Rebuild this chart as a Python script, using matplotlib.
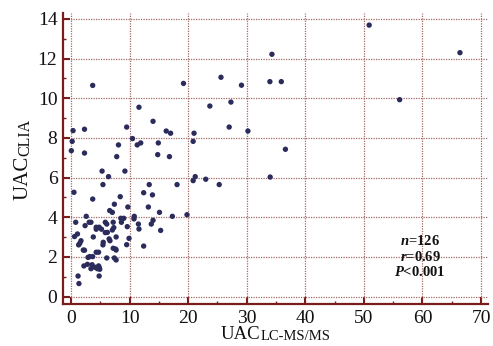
import matplotlib
matplotlib.use("Agg")
import matplotlib.pyplot as plt
from matplotlib.ticker import MultipleLocator

plt.rcParams['font.family'] = ['Liberation Serif', 'DejaVu Serif']
plt.rcParams['mathtext.fontset'] = 'custom'
plt.rcParams['mathtext.rm'] = 'Liberation Serif'
plt.rcParams['mathtext.it'] = 'Liberation Serif:italic:bold'

uac_lcms = [
    3.7, 19.2, 25.6, 29.1, 0.35, 2.3, 0.2, 0.05, 2.3, 9.5, 10.5, 11.6, 11.3, 11.9, 8.1, 7.8,
    14.0, 14.9, 14.8, 16.25, 17.0, 16.8, 21.0, 20.85, 23.7, 27.3, 27.0, 30.2, 5.3, 6.4, 9.2,
    34.3, 50.9, 66.4, 33.95, 35.9, 56.1, 36.6, 34.0,
    5.45, 0.5, 12.4, 13.35, 13.9, 18.1, 21.2, 20.85, 23.0, 25.3, 8.4, 3.7, 7.4, 9.7, 13.2,
    6.6, 7.05, 15.1, 17.3, 19.8, 2.6, 10.8, 10.75, 0.8, 3.1, 3.4, 7.2, 5.85, 6.1, 8.5, 9.0,
    8.6, 11.5, 13.7, 14.0, 2.4, 4.3, 4.8, 4.3, 5.2, 7.05, 7.3, 9.6, 11.6, 15.3, 5.85, 6.2,
    1.1, 0.6, 3.8, 7.7, 9.9, 6.5, 6.65, 1.7, 1.5, 1.3, 5.5, 5.45, 9.5, 12.4, 7.2, 7.6, 7.7,
    2.1, 2.3, 4.3, 4.7, 2.9, 3.2, 3.7, 6.1, 7.4, 7.7, 2.8, 2.2, 3.6, 4.1, 3.4, 4.5, 4.8,
    4.9, 4.7, 1.2, 4.8, 1.35,
]
uac_clia = [
    10.65, 10.75, 11.06, 10.66, 8.37, 8.44, 7.83, 7.36, 7.24, 8.55, 7.97, 9.55, 7.65, 7.75, 7.65, 7.06,
    8.84, 7.75, 7.16, 8.35, 8.24, 7.06, 8.24, 7.83, 9.61, 9.81, 8.55, 8.35, 6.33, 6.05, 6.33,
    12.22, 13.69, 12.3, 10.84, 10.84, 9.93, 7.43, 6.03,
    5.65, 5.26, 5.24, 5.65, 5.13, 5.65, 6.05, 5.85, 5.92, 5.65, 5.04, 4.92, 4.66, 4.52, 4.52,
    4.34, 4.25, 4.25, 4.05, 4.13, 4.05, 4.05, 3.92, 3.75, 3.75, 3.75, 3.75, 3.75, 3.66, 3.95, 3.95,
    3.75, 3.66, 3.66, 3.85, 3.58, 3.50, 3.50, 3.40, 3.40, 3.36, 3.48, 3.53, 3.41, 3.34, 3.23, 3.24,
    3.16, 3.03, 3.01, 3.01, 2.94, 2.91, 2.82, 2.82, 2.69, 2.61, 2.74, 2.61, 2.62, 2.55, 2.44, 2.40, 2.35,
    2.35, 2.34, 2.24, 2.24, 1.98, 2.02, 2.02, 1.95, 1.95, 1.85, 1.63, 1.55, 1.61, 1.48, 1.41, 1.41, 1.48,
    1.38, 1.55, 1.04, 1.04, 0.66,
]
x_ticks = [0, 10, 20, 30, 40, 50, 60, 70]
y_ticks = [0, 2, 4, 6, 8, 10, 12, 14]
x_label_main, x_label_sub = 'UAC', 'LC-MS/MS'
y_label_main, y_label_sub = 'UAC', 'CLIA'
stats_lines = [r'$n$=126', r'$r$=0.69', r'$P$<0.001']

spine_c = '#7a1c1c'
grid_c = '#a06a66'
dot_c = '#2b2c5c'
text_c = '#111111'

W, H = 493, 346
fig = plt.figure(figsize=(W / 100, H / 100), dpi=100)
ax = fig.add_axes([0.1278, 0.1214, 0.8622, 0.841])
ax.scatter(uac_lcms, uac_clia, s=15, color=dot_c, edgecolors='none', zorder=3)

ax.set_xlim(-1.37, 71.2)
ax.set_ylim(-0.37, 14.3)
ax.set_xticks(x_ticks)
ax.set_yticks(y_ticks)
ax.xaxis.set_minor_locator(MultipleLocator(5))
ax.yaxis.set_minor_locator(MultipleLocator(1))
ax.grid(True, which='major', linestyle=(0, (1, 1)), color=grid_c, linewidth=0.9)
ax.set_axisbelow(True)

for side in ['top', 'right']:
    ax.spines[side].set_visible(False)
for side in ['left', 'bottom']:
    ax.spines[side].set_color(spine_c)
    ax.spines[side].set_linewidth(1.6)

ax.tick_params(which='major', direction='in', length=5, width=1.5, color=spine_c,
               labelsize=14, labelcolor=text_c, pad=4)
ax.tick_params(which='minor', direction='in', length=2.5, width=1.0, color=spine_c)

renderer = fig.canvas.get_renderer()

# x label
xl_x, xl_y = 221 / W, 1 - 339 / H
t_main = fig.text(xl_x, xl_y, x_label_main, fontsize=13.5, color=text_c,
                  ha='left', va='baseline')
bb = t_main.get_window_extent(renderer)
fig.text(bb.x1 / W, xl_y - 1 / H, x_label_sub, fontsize=10.5, color=text_c,
         ha='left', va='baseline')

# y label
yl_x, yl_y = 28 / W, 1 - 200 / H
t_main = fig.text(yl_x, yl_y, y_label_main, fontsize=15, color=text_c,
                  rotation=90, rotation_mode='anchor', ha='left', va='baseline')
bb = t_main.get_window_extent(renderer)
fig.text(yl_x + 1 / W, bb.y1 / H, y_label_sub, fontsize=11.5, color=text_c,
         rotation=90, rotation_mode='anchor', ha='left', va='baseline')

for i, t in enumerate(stats_lines):
    ax.text(59.6, 2.8 - i * 0.78, t, ha='center', va='center', fontsize=10.5,
            fontweight='bold', color=text_c)

fig.savefig('out.png', dpi=100)
